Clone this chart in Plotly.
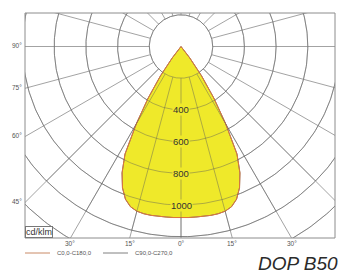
import numpy as np
import plotly.graph_objects as go

# ---- data ----
gamma_deg = [0, 2.5, 5, 7.5, 10, 12.5, 15, 17.5, 20, 22.5, 25, 27.5, 30, 32.5, 35, 37.5, 40]
c0_c180 = [1080, 1080, 1080, 1081, 1082, 1081, 1076, 1060, 1025, 965, 880, 765, 565, 385, 225, 90, 0]
c90_c270 = [1080, 1080, 1080, 1081, 1082, 1081, 1076, 1060, 1025, 965, 880, 765, 565, 385, 225, 90, 0]
ring_values = [200, 400, 600, 800, 1000, 1200, 1400]
ring_labels = ["400", "600", "800", "1000"]
side_angle_labels = [90, 75, 60, 45]
bottom_angle_labels = [-30, -15, 0, 15, 30]
legend_names = ["C0,0-C180,0", "C90,0-C270,0"]
unit_label = "cd/klm"
title_text = "DOP B50"

# ---- styling ----
W, H = 339, 276
ML, MR, MT, MB = 25, 4, 13, 38
CX, CY = 181, 46.5            # pole position in pixels
S = 200 / 31.7                # cd/klm per pixel
XMIN, XMAX = -(CX - ML) * S, ((W - MR) - CX) * S
YMIN, YMAX = -((H - MB) - CY) * S, (CY - MT) * S

GRID = "#8c8c8c"
YELLOW = "#efe92a"
ORANGE = "#e0763a"
TXT = "#555555"


def curve(vals):
    g = np.radians(np.array(gamma_deg))
    v = np.array(vals, dtype=float)
    full_g = np.concatenate([-g[::-1], g[1:]])
    full_v = np.concatenate([v[::-1], v[1:]])
    return full_v * np.sin(full_g), -full_v * np.cos(full_g)


fig = go.Figure()

# grid circles
t = np.linspace(0, 2 * np.pi, 361)
for r in ring_values:
    fig.add_trace(go.Scatter(x=r * np.cos(t), y=r * np.sin(t), mode="lines",
                             line=dict(color=GRID, width=0.8), hoverinfo="skip", showlegend=False))
# radial lines every 15 deg starting at inner ring
for a in range(0, 360, 15):
    ar = np.radians(a)
    fig.add_trace(go.Scatter(x=[200 * np.sin(ar), 3000 * np.sin(ar)],
                             y=[-200 * np.cos(ar), -3000 * np.cos(ar)], mode="lines",
                             line=dict(color=GRID, width=0.8), hoverinfo="skip", showlegend=False))

# luminous intensity curves
x2, y2 = curve(c90_c270)
fig.add_trace(go.Scatter(x=x2, y=y2, mode="lines", fill="toself", fillcolor=YELLOW,
                         line=dict(color="#707070", width=1), name=legend_names[1],
                         hoverinfo="skip", showlegend=False))
x1, y1 = curve(c0_c180)
fig.add_trace(go.Scatter(x=x1, y=y1, mode="lines",
                         line=dict(color=ORANGE, width=1), name=legend_names[0],
                         hoverinfo="skip", showlegend=False))

# grid lines over the fill (thin)
for r in ring_values:
    fig.add_trace(go.Scatter(x=r * np.cos(t), y=r * np.sin(t), mode="lines",
                             line=dict(color="rgba(90,90,90,0.55)", width=0.8),
                             hoverinfo="skip", showlegend=False))
for a in range(-45, 60, 15):
    ar = np.radians(a)
    fig.add_trace(go.Scatter(x=[200 * np.sin(ar), 1200 * np.sin(ar)],
                             y=[-200 * np.cos(ar), -1200 * np.cos(ar)], mode="lines",
                             line=dict(color="rgba(90,90,90,0.55)", width=0.8),
                             hoverinfo="skip", showlegend=False))

annotations = []
# ring labels
for lab in ring_labels:
    annotations.append(dict(x=0, y=-float(lab), text=lab, showarrow=False,
                            font=dict(family="Liberation Sans, Arial", size=9.5, color="#333333"),
                            bgcolor=YELLOW, borderpad=0))
# side angle labels
for a in side_angle_labels:
    ar = np.radians(a)
    yl = XMIN * np.cos(ar) / np.sin(ar)
    annotations.append(dict(x=XMIN, y=yl, text=f"{a}°", showarrow=False, xanchor="right",
                            xshift=-1, yshift=1,
                            font=dict(family="Liberation Sans, Arial", size=6.5, color=TXT)))
    yr = XMAX * np.cos(ar) / np.sin(ar)
    annotations.append(dict(x=XMAX, y=yr, text=f"{a}°", showarrow=False, xanchor="left",
                            xshift=2, yshift=1,
                            font=dict(family="Liberation Sans, Arial", size=6.5, color=TXT)))
# bottom angle labels
for a in bottom_angle_labels:
    ar = np.radians(a)
    xb = -YMIN * np.tan(ar)
    annotations.append(dict(x=xb, y=YMIN, text=f"{abs(a)}°", showarrow=False, yanchor="top",
                            yshift=0,
                            font=dict(family="Liberation Sans, Arial", size=6.5, color=TXT)))
# unit box
annotations.append(dict(xref="paper", yref="paper", x=0, y=0, xanchor="left", yanchor="bottom",
                        text=unit_label, showarrow=False, bgcolor="white", bordercolor="#777777",
                        borderwidth=1, borderpad=0,
                        font=dict(family="Liberation Sans, Arial", size=9, color="#333333")))
# legend texts
pw, ph = W - ML - MR, H - MT - MB
leg_y = -(253 - (H - MB)) / ph
annotations.append(dict(xref="paper", yref="paper", x=(55 - ML) / pw, y=leg_y, xanchor="left",
                        yanchor="middle", text=legend_names[0], showarrow=False,
                        font=dict(family="Liberation Sans, Arial", size=6, color=TXT)))
annotations.append(dict(xref="paper", yref="paper", x=(133 - ML) / pw, y=leg_y, xanchor="left",
                        yanchor="middle", text=legend_names[1], showarrow=False,
                        font=dict(family="Liberation Sans, Arial", size=6, color=TXT)))
# title
annotations.append(dict(xref="paper", yref="paper", x=(340 - ML) / pw, y=-(276 - (H - MB)) / ph,
                        xanchor="right", yanchor="bottom",
                        text=f"<i>{title_text}</i>", showarrow=False,
                        font=dict(family="Liberation Sans, Arial", size=19,
                                  color="#2b2b2b")))

shapes = [
    dict(type="rect", xref="paper", yref="paper", x0=0, y0=0, x1=1, y1=1,
         line=dict(color="#8c8c8c", width=1)),
    dict(type="line", xref="paper", yref="paper", x0=0, x1=(50 - ML) / pw, y0=leg_y, y1=leg_y,
         line=dict(color="#c98a66", width=1)),
    dict(type="line", xref="paper", yref="paper", x0=(103 - ML) / pw, x1=(128 - ML) / pw,
         y0=leg_y, y1=leg_y, line=dict(color="#808080", width=1)),
]

fig.update_layout(
    width=W, height=H,
    margin=dict(l=ML, r=MR, t=MT, b=MB, pad=0),
    paper_bgcolor="white", plot_bgcolor="white",
    xaxis=dict(range=[XMIN, XMAX], visible=False, fixedrange=True),
    yaxis=dict(range=[YMIN, YMAX], visible=False, fixedrange=True),
    annotations=annotations, shapes=shapes, showlegend=False,
)

fig.write_html("out.html", config={"staticPlot": True},
               post_script="document.body.style.margin='0';document.body.style.overflow='hidden';")
